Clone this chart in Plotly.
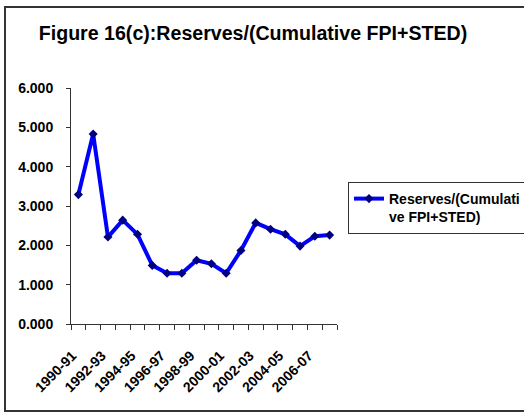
import plotly.graph_objects as go

years = ["1990-91", "1991-92", "1992-93", "1993-94", "1994-95", "1995-96",
         "1996-97", "1997-98", "1998-99", "1999-00", "2000-01", "2001-02",
         "2002-03", "2003-04", "2004-05", "2005-06", "2006-07", "2007-08"]
ratio = [3.29, 4.83, 2.21, 2.64, 2.28, 1.49, 1.29, 1.29, 1.62,
         1.53, 1.29, 1.87, 2.57, 2.41, 2.28, 1.98, 2.23, 2.26]
y_ticks = [0, 1, 2, 3, 4, 5, 6]

W, H = 524, 413
L, R, T, B = 71, 337, 88, 324  # plot area in px

def px(x):
  return (x - L) / (R - L)

def py(y):
  return (B - y) / (B - T)

idx = list(range(len(years)))
font = "Liberation Sans, Arial, sans-serif"

fig = go.Figure()
fig.add_trace(go.Scatter(
                        x=idx,
                        y=ratio,
                        mode='lines+markers',
                        name='Reserves/(Cumulati<br>ve FPI+STED)',
                        line=dict(color='#0000FF', width=4),
                        marker=dict(symbol='diamond', size=7, color='#000080'),
                      ))

fig.update_layout(
    width=W, height=H,
    margin=dict(l=L, r=W - R, t=T, b=H - B, autoexpand=False),
    paper_bgcolor='white', plot_bgcolor='white',
    font=dict(family=font, color='black'),
    title=dict(text='Figure 16(c):Reserves/(Cumulative FPI+STED)',
               font=dict(size=19.6, weight='bold'),
               xref='container', x=253 / W, xanchor='center',
               yref='container', y=1 - 33 / H, yanchor='middle'),
    showlegend=True,
    legend=dict(x=px(348), y=py(182), xanchor='left', yanchor='top',
                bordercolor='#333', borderwidth=1, bgcolor='white',
                font=dict(size=14, weight='bold'), valign='top',
                itemwidth=30, tracegroupgap=0),
    xaxis=dict(range=[-0.5, len(years) - 0.5],
               tickvals=idx[::2], ticktext=years[::2],
               tickangle=-45, ticks='', showgrid=False, zeroline=False,
               showline=True, linecolor='#333', linewidth=1,
               tickfont=dict(size=14, weight='bold'),
               ticklabelstandoff=17, ticklabelshift=-6,
               minor=dict(tick0=-0.5, dtick=1, ticks='outside', ticklen=5,
                          tickcolor='#333', showgrid=False)),
    yaxis=dict(range=[0, 6], tickvals=y_ticks, tickformat='.3f',
               ticks='outside', ticklen=4, tickcolor='#333',
               showgrid=False, zeroline=False,
               showline=True, linecolor='#333', linewidth=1,
               tickfont=dict(size=14, weight='bold'),
               ticklabelstandoff=10),
)

# chart area frame (right side runs off the picture)
fig.add_shape(type='path', xref='paper', yref='paper', layer='above',
              path=f"M {px(540)},{py(7)} L {px(5)},{py(7)} L {px(5)},{py(411)} L {px(540)},{py(411)}",
              line=dict(color='#333', width=2))

fig.write_html("out.html", config={'displayModeBar': False},
               post_script="document.body.style.margin = '0';")
